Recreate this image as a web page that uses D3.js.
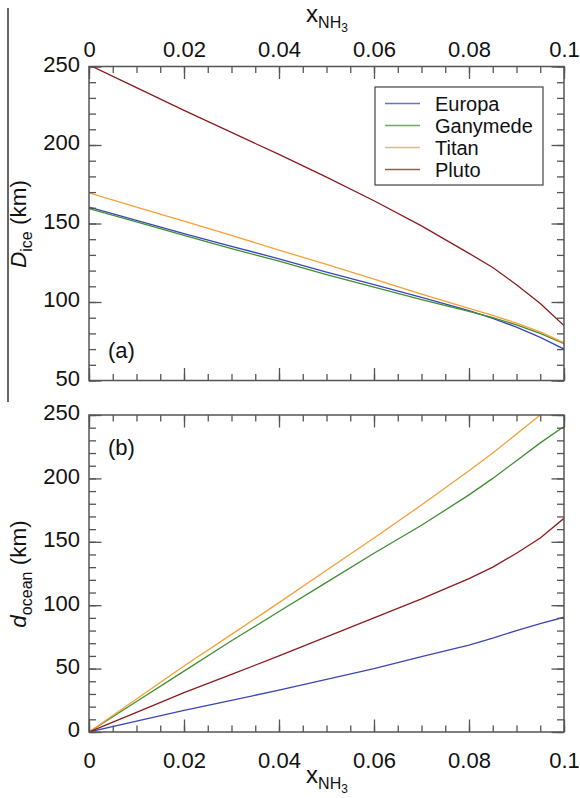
<!DOCTYPE html>
<html>
<head>
<meta charset="utf-8">
<script src="https://cdn.jsdelivr.net/npm/d3@7"></script>
<style>
body { margin: 0; background: #fff; }
text { font-family: "Liberation Sans", Arial, sans-serif; fill: #111; }
</style>
</head>
<body>
<script>
var W = 580, H = 798;

// x values (ammonia fraction) shared by all curves
var xNH3 = [0, 0.01, 0.02, 0.03, 0.04, 0.05, 0.06, 0.07, 0.08, 0.085, 0.09, 0.095, 0.1];

// (a) ice shell thickness D_ice, km
var iceEuropa   = [160.5, 152, 143.5, 135.5, 127.5, 119, 111, 103, 94.5, 89.5, 84, 77.5, 70];
var iceGanymede = [159.5, 151, 142.5, 134, 126, 117.5, 109.5, 101.5, 94, 90, 85.5, 80, 73.5];
var iceTitan    = [169.5, 160.5, 151.5, 142.5, 133, 124, 114.5, 105, 96, 91.5, 86.5, 81, 74];
var icePluto    = [251, 236.5, 222, 208, 194, 179.5, 164.5, 148.5, 131, 122, 111, 99, 85];

// (b) ocean thickness d_ocean, km
var oceanEuropa   = [0, 8.5, 17, 25, 33, 41.5, 50, 59.5, 68.5, 74, 80, 85.5, 90.5];
var oceanGanymede = [0, 24, 48, 72, 95, 118, 141, 163, 187, 200, 214, 228, 241];
var oceanTitan    = [0, 26, 52, 77, 102, 127.5, 153, 179, 206, 220, 235, 250, 264];
var oceanPluto    = [0, 15.5, 31, 45.5, 60, 75, 90, 105, 121, 130, 141, 153, 168.5];

var names  = ["Europa", "Ganymede", "Titan", "Pluto"];
var colors = ["#3b46b4", "#3f8f32", "#f7a035", "#8c1c1c"];

var xMajor = [0, 0.02, 0.04, 0.06, 0.08, 0.1];
var yMajor = [0, 50, 100, 150, 200, 250];

var left = 89, right = 564;
var panels = [
  { id: "a", top: 66.5, bottom: 380.5, dom: [50, 250], series: [iceEuropa, iceGanymede, iceTitan, icePluto], xLabels: "top" },
  { id: "b", top: 415, bottom: 732, dom: [0, 250], series: [oceanEuropa, oceanGanymede, oceanTitan, oceanPluto], xLabels: "bottom" }
];

var svg = d3.select("body").append("svg")
    .attr("width", W)
    .attr("height", H);

var x = d3.scaleLinear().domain([0, 0.1]).range([left, right]);
var xMinor = d3.range(0, 0.1001, 0.005);
var fmtX = function(d){ return d === 0 ? "0" : String(+d.toFixed(3)); };

// odd stray rule at the far left of the top panel
svg.append("line")
    .attr("x1", 8).attr("x2", 8).attr("y1", 8).attr("y2", 402)
    .style("stroke", "#333").style("stroke-width", 1.5);

panels.forEach(function(p) {
  var y = d3.scaleLinear().domain(p.dom).range([p.bottom, p.top]);
  var g = svg.append("g");
  var yMinor = d3.range(p.dom[0], p.dom[1] + 0.1, 10);
  var yMaj = yMajor.filter(function(v){ return v >= p.dom[0]; });

  g.append("clipPath").attr("id", "clip" + p.id)
    .append("rect").attr("x", left).attr("y", p.top)
    .attr("width", right - left).attr("height", p.bottom - p.top);

  // curves
  var line = d3.line().x(function(d,i){ return x(xNH3[i]); }).y(function(d){ return y(d); });
  g.append("g").attr("clip-path", "url(#clip" + p.id + ")")
    .selectAll("path").data(p.series).enter().append("path")
    .attr("d", line)
    .style("fill", "none")
    .style("stroke", function(d,i){ return colors[i]; })
    .style("stroke-width", 1.3);

  // axes with inward ticks on all four sides
  function addAxis(axis, tr) {
    var a = g.append("g").attr("transform", tr).call(axis);
    a.select(".domain").remove();
    a.selectAll("line").style("stroke", "#555").style("stroke-width", 1.3);
    a.selectAll("text").style("font-size", "22px").style("fill", "#111")
      .style("font-family", "Liberation Sans, Arial, sans-serif");
    return a;
  }
  var tb = "translate(0," + p.bottom + ")", tt = "translate(0," + p.top + ")";
  var tl = "translate(" + left + ",0)", trr = "translate(" + right + ",0)";

  addAxis(d3.axisBottom(x).tickValues(xMinor).tickSize(-6.5).tickFormat(""), tb);
  addAxis(d3.axisTop(x).tickValues(xMinor).tickSize(-6.5).tickFormat(""), tt);
  addAxis(d3.axisLeft(y).tickValues(yMinor).tickSize(-7).tickFormat(""), tl);
  addAxis(d3.axisRight(y).tickValues(yMinor).tickSize(-7).tickFormat(""), trr);

  addAxis(d3.axisBottom(x).tickValues(xMajor).tickSize(-12.5).tickPadding(20)
      .tickFormat(p.xLabels === "bottom" ? fmtX : ""), tb);
  addAxis(d3.axisTop(x).tickValues(xMajor).tickSize(-12.5).tickPadding(9.5)
      .tickFormat(p.xLabels === "top" ? fmtX : ""), tt);
  var ya = addAxis(d3.axisLeft(y).tickValues(yMaj).tickSize(-12.5).tickPadding(9).tickFormat(d3.format("d")), tl);
  ya.selectAll("text").attr("dy", "0.22em");
  addAxis(d3.axisRight(y).tickValues(yMaj).tickSize(-12.5).tickFormat(""), trr);

  g.append("rect")
    .attr("x", left).attr("y", p.top)
    .attr("width", right - left).attr("height", p.bottom - p.top)
    .style("fill", "none").style("stroke", "#555").style("stroke-width", 1.5);

  g.append("text").text("(" + p.id + ")")
    .attr("x", 108).attr("y", p.id === "a" ? 358 : 455)
    .style("font-size", "22px");
});

// axis titles
function xTitle(yPos) {
  var t = svg.append("text").attr("x", 327).attr("y", yPos)
      .attr("text-anchor", "middle").style("font-size", "24px");
  t.append("tspan").text("x");
  t.append("tspan").text("NH").attr("dy", 6).style("font-size", "16px");
  t.append("tspan").text("3").attr("dy", 4).style("font-size", "12px");
}
xTitle(22);
xTitle(783);

function yTitle(cy, main, sub) {
  var t = svg.append("text")
      .attr("transform", "translate(26," + cy + ") rotate(-90)")
      .attr("text-anchor", "middle").style("font-size", "22.5px");
  t.append("tspan").text(main).style("font-style", "italic");
  t.append("tspan").text(sub).attr("dy", 6).style("font-size", "16px");
  t.append("tspan").text(" (km)").attr("dy", -6);
}
yTitle(224, "D", "ice");
yTitle(574, "d", "ocean");

// legend
var lg = svg.append("g");
lg.append("rect")
  .attr("x", 375).attr("y", 87).attr("width", 168).attr("height", 98)
  .style("fill", "#fff").style("stroke", "#444").style("stroke-width", 1.2);
var items = lg.selectAll("g.item").data(names).enter().append("g")
  .attr("transform", function(d,i){ return "translate(0," + (103.5 + i * 22) + ")"; });
items.append("line")
  .attr("x1", 385).attr("x2", 420).attr("y1", 0).attr("y2", 0)
  .style("stroke", function(d,i){ return colors[i]; })
  .style("stroke-width", 1.3).style("opacity", 0.75);
items.append("text").text(function(d){ return d; })
  .attr("x", 435).attr("y", 7)
  .style("font-size", "20px");
</script>
</body>
</html>
